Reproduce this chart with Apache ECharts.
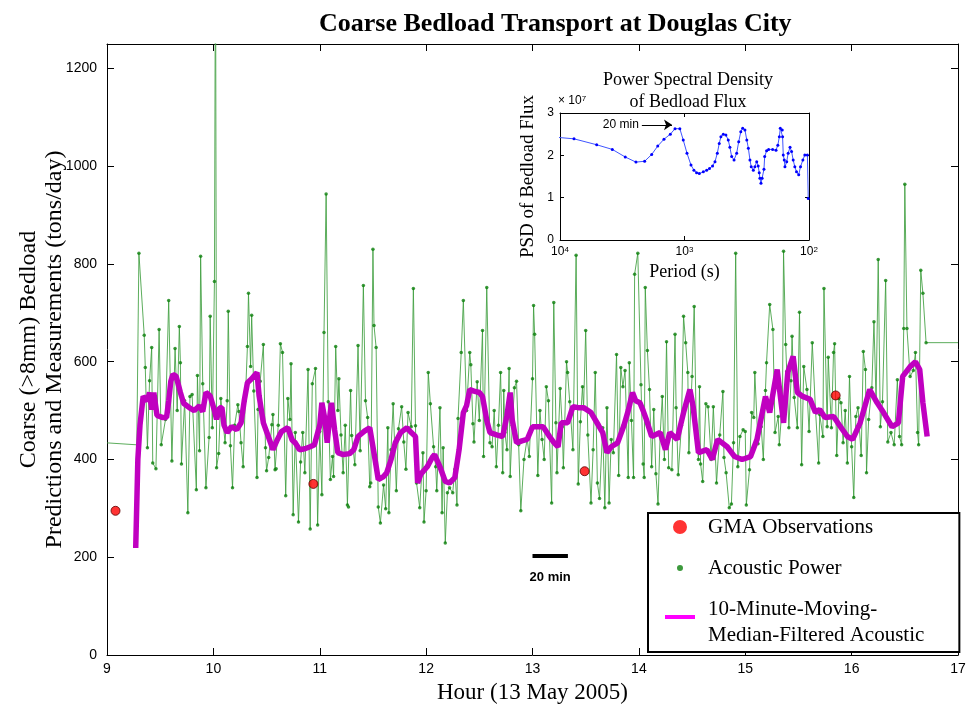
<!DOCTYPE html>
<html>
<head>
<meta charset="utf-8">
<script src="https://cdn.jsdelivr.net/npm/echarts@6/dist/echarts.min.js"></script>
<style>
  html, body { margin: 0; padding: 0; background: #fff; }
  #chart { width: 967px; height: 709px; }
</style>
</head>
<body>
<div id="chart"></div>
<script>
// hour ticks and tons/day ticks of the main panel
var hourTicks = [9, 10, 11, 12, 13, 14, 15, 16, 17];
var tonTicks = [0, 200, 400, 600, 800, 1000, 1200];

// GMA observations [hour, tons/day]
var gmaObs = [[9.08, 295], [10.94, 350], [13.49, 376], [15.85, 531]];

// acoustic trace runs flat before the first and after the last sample
var traceEdges = [[9.00, 434], [9.28, 430], [17.00, 639]];

// acoustic power samples [hour, tons/day]
var acoustic = [
  [9.30, 822], [9.35, 654], [9.36, 588], [9.38, 424], [9.40, 561], [9.42, 629], [9.43, 393], [9.46, 381],
  [9.49, 666], [9.51, 430], [9.55, 482], [9.58, 725], [9.61, 397], [9.64, 627], [9.66, 500], [9.68, 672],
  [9.69, 598], [9.70, 391], [9.73, 520], [9.76, 291], [9.78, 529], [9.80, 533], [9.84, 338], [9.85, 572],
  [9.87, 418], [9.88, 816], [9.90, 555], [9.93, 342], [9.96, 445], [9.97, 693], [9.99, 465], [10.01, 764],
  [10.02, 1500], [10.03, 383], [10.05, 412], [10.07, 525], [10.09, 480], [10.11, 434], [10.13, 520], [10.14, 703],
  [10.16, 428], [10.18, 342], [10.20, 470], [10.23, 512], [10.24, 498], [10.26, 434], [10.28, 385], [10.30, 520],
  [10.32, 631], [10.33, 740], [10.35, 590], [10.36, 695], [10.38, 540], [10.41, 363], [10.42, 502], [10.44, 560],
  [10.47, 635], [10.49, 424], [10.50, 377], [10.52, 404], [10.55, 471], [10.56, 492], [10.58, 379], [10.59, 381],
  [10.61, 470], [10.63, 637], [10.65, 619], [10.68, 326], [10.70, 525], [10.72, 482], [10.73, 596], [10.75, 287],
  [10.77, 455], [10.80, 272], [10.82, 395], [10.84, 455], [10.86, 373], [10.89, 584], [10.91, 258], [10.93, 555],
  [10.96, 586], [10.98, 266], [11.00, 457], [11.02, 328], [11.04, 660], [11.06, 943], [11.08, 518], [11.10, 359],
  [11.12, 406], [11.13, 365], [11.15, 631], [11.17, 500], [11.18, 565], [11.20, 450], [11.22, 373], [11.24, 470],
  [11.26, 307], [11.27, 303], [11.29, 541], [11.30, 449], [11.33, 389], [11.36, 633], [11.38, 418], [11.41, 756],
  [11.43, 520], [11.45, 486], [11.47, 344], [11.48, 352], [11.50, 830], [11.51, 674], [11.53, 629], [11.55, 303],
  [11.57, 270], [11.60, 348], [11.62, 299], [11.64, 465], [11.65, 291], [11.67, 420], [11.69, 514], [11.72, 336],
  [11.74, 463], [11.77, 508], [11.79, 436], [11.81, 380], [11.83, 496], [11.86, 467], [11.88, 750], [11.90, 469],
  [11.91, 352], [11.94, 301], [11.97, 414], [11.98, 272], [12.00, 336], [12.02, 578], [12.04, 514], [12.07, 426],
  [12.09, 385], [12.10, 336], [12.13, 506], [12.15, 291], [12.16, 424], [12.18, 229], [12.20, 332], [12.22, 342],
  [12.25, 332], [12.27, 380], [12.29, 307], [12.30, 484], [12.33, 619], [12.35, 725], [12.38, 500], [12.41, 619],
  [12.42, 594], [12.44, 473], [12.45, 436], [12.48, 559], [12.50, 480], [12.53, 664], [12.54, 406], [12.57, 752],
  [12.60, 434], [12.62, 426], [12.64, 500], [12.66, 385], [12.68, 470], [12.70, 578], [12.72, 373], [12.73, 541],
  [12.74, 455], [12.76, 420], [12.78, 586], [12.79, 365], [12.81, 470], [12.83, 547], [12.85, 560], [12.87, 430],
  [12.89, 295], [12.92, 400], [12.95, 443], [12.97, 406], [13.00, 565], [13.01, 715], [13.02, 656], [13.05, 367],
  [13.07, 500], [13.09, 441], [13.11, 400], [13.13, 549], [13.15, 520], [13.16, 445], [13.18, 311], [13.20, 721],
  [13.22, 475], [13.23, 373], [13.26, 545], [13.28, 467], [13.29, 383], [13.32, 600], [13.33, 578], [13.35, 518],
  [13.38, 420], [13.41, 818], [13.43, 350], [13.45, 477], [13.47, 549], [13.48, 504], [13.50, 664], [13.52, 450],
  [13.55, 311], [13.57, 420], [13.59, 578], [13.61, 352], [13.63, 320], [13.66, 465], [13.68, 301], [13.70, 506],
  [13.72, 311], [13.74, 441], [13.76, 414], [13.79, 615], [13.81, 367], [13.83, 588], [13.85, 549], [13.87, 582],
  [13.90, 363], [13.91, 598], [13.93, 480], [13.95, 363], [13.96, 779], [13.99, 822], [14.02, 553], [14.04, 391],
  [14.05, 363], [14.06, 752], [14.08, 623], [14.10, 543], [14.12, 385], [14.14, 502], [14.16, 371], [14.18, 309],
  [14.20, 450], [14.22, 529], [14.24, 400], [14.26, 641], [14.28, 383], [14.31, 379], [14.34, 656], [14.35, 506],
  [14.37, 369], [14.40, 470], [14.42, 693], [14.44, 639], [14.46, 578], [14.47, 414], [14.50, 570], [14.52, 713],
  [14.54, 460], [14.56, 400], [14.57, 549], [14.58, 391], [14.60, 355], [14.63, 514], [14.65, 508], [14.68, 400],
  [14.70, 508], [14.73, 352], [14.76, 450], [14.79, 539], [14.80, 404], [14.82, 373], [14.85, 301], [14.87, 309],
  [14.89, 434], [14.91, 822], [14.93, 385], [14.95, 447], [14.98, 461], [15.00, 457], [15.01, 307], [15.04, 379],
  [15.06, 496], [15.08, 486], [15.09, 578], [15.12, 432], [15.15, 467], [15.17, 400], [15.19, 541], [15.20, 598],
  [15.23, 717], [15.26, 666], [15.28, 455], [15.31, 488], [15.32, 430], [15.35, 518], [15.36, 826], [15.38, 635],
  [15.39, 580], [15.41, 465], [15.43, 561], [15.44, 652], [15.46, 527], [15.49, 465], [15.51, 701], [15.53, 389],
  [15.55, 590], [15.58, 543], [15.60, 457], [15.63, 639], [15.66, 502], [15.69, 393], [15.70, 492], [15.73, 447],
  [15.74, 750], [15.77, 467], [15.78, 609], [15.81, 465], [15.83, 619], [15.84, 637], [15.86, 408], [15.88, 525],
  [15.90, 516], [15.92, 434], [15.94, 500], [15.96, 393], [15.98, 570], [16.00, 426], [16.02, 322], [16.04, 488],
  [16.06, 506], [16.09, 408], [16.11, 621], [16.13, 584], [16.14, 373], [16.16, 482], [16.19, 547], [16.21, 682],
  [16.23, 518], [16.25, 809], [16.27, 467], [16.29, 518], [16.32, 766], [16.34, 436], [16.37, 455], [16.40, 430],
  [16.43, 563], [16.45, 447], [16.47, 430], [16.49, 668], [16.50, 963], [16.52, 668], [16.55, 570], [16.58, 582],
  [16.60, 619], [16.62, 455], [16.63, 430], [16.65, 787], [16.67, 740], [16.70, 639]
];

// 10 minute moving median of the acoustic signal [hour, tons/day]
var median = [
  [9.27, 219], [9.29, 400], [9.31, 470], [9.34, 529], [9.38, 520], [9.40, 537], [9.42, 502], [9.44, 537],
  [9.47, 490], [9.52, 486], [9.56, 486], [9.58, 520], [9.60, 560], [9.62, 574], [9.65, 570], [9.69, 537],
  [9.72, 515], [9.78, 505], [9.82, 500], [9.87, 510], [9.90, 498], [9.93, 537], [9.97, 530], [10.01, 500],
  [10.03, 482], [10.06, 506], [10.08, 506], [10.10, 470], [10.13, 455], [10.17, 467], [10.22, 461], [10.26, 475],
  [10.29, 520], [10.32, 557], [10.36, 565], [10.41, 578], [10.43, 530], [10.47, 475], [10.52, 445], [10.56, 420],
  [10.60, 440], [10.64, 457], [10.70, 465], [10.74, 440], [10.77, 434], [10.81, 420], [10.86, 422], [10.91, 426],
  [10.95, 430], [11.00, 470], [11.02, 516], [11.05, 480], [11.07, 434], [11.09, 480], [11.11, 516], [11.14, 460],
  [11.17, 414], [11.22, 410], [11.28, 412], [11.32, 420], [11.36, 447], [11.42, 458], [11.47, 465], [11.52, 400],
  [11.55, 359], [11.60, 365], [11.63, 373], [11.67, 400], [11.71, 434], [11.76, 455], [11.82, 465], [11.86, 455],
  [11.90, 447], [11.92, 352], [11.95, 370], [12.01, 385], [12.06, 405], [12.08, 410], [12.13, 385], [12.18, 355],
  [12.22, 352], [12.27, 363], [12.31, 420], [12.35, 496], [12.38, 510], [12.41, 543], [12.45, 540], [12.50, 537],
  [12.53, 529], [12.57, 480], [12.60, 455], [12.67, 450], [12.72, 447], [12.76, 490], [12.79, 537], [12.81, 480],
  [12.85, 434], [12.90, 438], [12.95, 441], [13.00, 467], [13.05, 467], [13.10, 467], [13.16, 447], [13.20, 435],
  [13.24, 426], [13.27, 475], [13.33, 475], [13.38, 508], [13.43, 506], [13.48, 506], [13.55, 496], [13.62, 470],
  [13.66, 455], [13.70, 414], [13.74, 426], [13.80, 434], [13.86, 470], [13.90, 500], [13.94, 537], [13.97, 520],
  [14.01, 516], [14.04, 500], [14.07, 482], [14.12, 447], [14.20, 455], [14.25, 420], [14.29, 455], [14.36, 441],
  [14.42, 496], [14.48, 543], [14.51, 508], [14.56, 414], [14.64, 420], [14.69, 400], [14.74, 441], [14.83, 426],
  [14.90, 406], [14.97, 400], [15.05, 406], [15.11, 441], [15.19, 529], [15.23, 496], [15.30, 584], [15.36, 475],
  [15.40, 578], [15.45, 611], [15.49, 537], [15.54, 529], [15.61, 523], [15.66, 496], [15.70, 502], [15.75, 486],
  [15.83, 488], [15.87, 475], [15.96, 447], [16.01, 441], [16.08, 475], [16.17, 543], [16.24, 516], [16.30, 496],
  [16.38, 467], [16.44, 475], [16.48, 570], [16.55, 590], [16.60, 600], [16.64, 584], [16.67, 516], [16.71, 447]
];

// inset: power spectral density [period s, PSD x 1e7]
var psd = [
  [11000, 2.43], [7720, 2.39], [5075, 2.25], [3800, 2.14], [2990, 1.96], [2455, 1.84], [2090, 1.86], [1835, 2.02],
  [1640, 2.22], [1462, 2.38], [1300, 2.50], [1192, 2.63], [1090, 2.63], [1023, 2.36], [955, 2.05], [887, 1.77],
  [840, 1.65], [800, 1.59], [760, 1.57], [706, 1.61], [664, 1.65], [630, 1.69], [595, 1.75], [569, 1.85],
  [545, 2.05], [526, 2.28], [510, 2.44], [488, 2.50], [465, 2.48], [445, 2.36], [432, 2.19], [418, 1.97],
  [400, 1.89], [381, 2.05], [367, 2.32], [353, 2.56], [341, 2.64], [327, 2.60], [316, 2.36], [307, 2.17],
  [298, 1.89], [291, 1.73], [280, 1.65], [272, 1.73], [263, 1.85], [256, 1.75], [251, 1.59], [248, 1.46],
  [243, 1.34], [238, 1.46], [230, 1.67], [227, 1.97], [219, 2.11], [211, 2.14], [196, 2.14], [184, 2.12],
  [178, 2.24], [173, 2.44], [170, 2.64], [164, 2.60], [163, 2.44], [161, 2.01], [158, 1.89], [156, 1.73],
  [151, 1.85], [147, 2.05], [142, 2.19], [138, 2.09], [134, 1.89], [130, 1.73], [126, 1.61], [121, 1.54],
  [117, 1.73], [112, 1.89], [108, 2.01], [103, 2.01], [101.4, 0.98]
];
var psdTicks = [0, 1, 2, 3];

var serif = '"Liberation Serif", "Times New Roman", serif';
var sans = '"Liberation Sans", Arial, sans-serif';

var chart = echarts.init(document.getElementById('chart'), null, { renderer: 'canvas' });

// axis helpers, the frame is drawn with mirrored axes so ticks sit on all four sides
var frameLine = { show: true, onZero: false, lineStyle: { color: '#000', width: 1 } };
var tickIn = { show: true, inside: true, length: 7, lineStyle: { color: '#000' } };
var smallTick = { show: true, inside: true, length: 4, lineStyle: { color: '#000' } };
var noLabel = { show: false };

var option = {
  backgroundColor: '#fff',
  animation: false,
  title: [{
    text: 'Coarse Bedload Transport at Douglas City',
    left: 314, top: 6,
    textStyle: { fontFamily: serif, fontSize: 26, fontWeight: 'bold', color: '#000' }
  }, {
    text: 'Power Spectral Density\nof Bedload Flux',
    left: 683, top: 64, textAlign: 'center',
    textStyle: { fontFamily: serif, fontSize: 18, fontWeight: 'normal', color: '#000', lineHeight: 22 }
  }],
  legend: {
    orient: 'vertical',
    left: 648, top: 513,
    padding: [1, 35, 4, 9],
    itemGap: 15,
    itemWidth: 46, itemHeight: 26,
    borderColor: '#000', borderWidth: 2,
    backgroundColor: '#fff',
    selectedMode: false,
    textStyle: { fontFamily: serif, fontSize: 21, color: '#000', lineHeight: 26 },
    data: [
      { name: 'GMA Observations',
        icon: 'path://M0,0L0.1,0.1ZM46,26L45.9,25.9ZM23,6A7,7,0,1,1,23,20A7,7,0,1,1,23,6Z',
        itemStyle: { color: '#ff0000', borderWidth: 0 } },
      { name: 'Acoustic Power',
        icon: 'path://M0,0L0.1,0.1ZM46,26L45.9,25.9ZM23,10A3,3,0,1,1,23,16A3,3,0,1,1,23,10Z',
        itemStyle: { color: '#0b7f0b' } },
      { name: '10-Minute-Moving-\nMedian-Filtered Acoustic',
        icon: 'path://M0,0L0.1,0.1ZM46,26L45.9,25.9ZM8,6L38,6L38,10L8,10Z',
        itemStyle: { color: '#ff00ff' }, lineStyle: { width: 0 } }
    ]
  },
  grid: [
    { left: 107, top: 44, right: 9, bottom: 54, outerBoundsMode: 'none' },
    { left: 560, top: 113, width: 249, height: 127, show: true, backgroundColor: '#fff', borderWidth: 0, z: 5, outerBoundsMode: 'none' }
  ],
  graphic: [{
    type: 'text', left: 558, top: 95, z: 100,
    style: {
      text: '\u00d7 10{s|7}', fill: '#000', font: '12px ' + sans,
      rich: { s: { fontSize: 8, fontFamily: sans, verticalAlign: 'top', fill: '#000' } }
    }
  }],
  xAxis: [{
    gridIndex: 0, type: 'value', min: hourTicks[0], max: hourTicks[hourTicks.length - 1], interval: 1,
    name: 'Hour (13 May 2005)', nameLocation: 'middle', nameGap: 26,
    nameTextStyle: { fontFamily: serif, fontSize: 23, color: '#000' },
    axisLine: frameLine, axisTick: tickIn, splitLine: { show: false },
    axisLabel: { margin: 7, fontFamily: sans, fontSize: 14, color: '#000' }
  }, {
    gridIndex: 0, type: 'value', position: 'top', min: 9, max: 17, interval: 1,
    axisLine: frameLine, axisTick: tickIn, axisLabel: noLabel, splitLine: { show: false }
  }, {
    gridIndex: 1, type: 'log', logBase: 10, min: 100, max: 10000, inverse: true,
    name: 'Period (s)', nameLocation: 'middle', nameGap: 23,
    nameTextStyle: { fontFamily: serif, fontSize: 18, color: '#000' },
    axisLine: frameLine, axisTick: smallTick,
    splitLine: { show: false },
    axisLabel: {
      margin: 6, color: '#000',
      formatter: function (v) { return '{b|10}{s|' + Math.round(Math.log10(v)) + '}'; },
      rich: {
        b: { fontFamily: sans, fontSize: 12, color: '#000' },
        s: { fontFamily: sans, fontSize: 8, color: '#000', verticalAlign: 'top', padding: [0, 0, 4, 0] }
      }
    },
    z: 6
  }, {
    gridIndex: 1, type: 'log', logBase: 10, min: 100, max: 10000, inverse: true, position: 'top',
    axisLine: frameLine, axisTick: smallTick,
    axisLabel: noLabel, splitLine: { show: false }, z: 6
  }],
  yAxis: [{
    gridIndex: 0, type: 'value', min: tonTicks[0], max: 1250, interval: 200,
    name: 'Coarse (>8mm) Bedload\nPredictions and Measurements (tons/day)',
    nameLocation: 'middle', nameGap: 39, nameMoveOverlap: false,
    nameTextStyle: { fontFamily: serif, fontSize: 24, color: '#000', lineHeight: 26 },
    axisLine: frameLine, axisTick: tickIn, splitLine: { show: false },
    axisLabel: {
      margin: 10, fontFamily: sans, fontSize: 14, color: '#000', showMaxLabel: false,
      formatter: function (v) { return tonTicks.indexOf(v) >= 0 ? String(v) : ''; }
    }
  }, {
    gridIndex: 0, type: 'value', position: 'right', min: 0, max: 1250, interval: 200,
    axisLine: frameLine, axisTick: tickIn, axisLabel: noLabel, splitLine: { show: false }
  }, {
    gridIndex: 1, type: 'value', min: psdTicks[0], max: psdTicks[psdTicks.length - 1], interval: 1,
    name: 'PSD of Bedload Flux', nameLocation: 'middle', nameGap: 22,
    nameTextStyle: { fontFamily: serif, fontSize: 19, color: '#000' },
    axisLine: frameLine, axisTick: smallTick,
    splitLine: { show: false },
    axisLabel: { margin: 6, fontFamily: sans, fontSize: 12, color: '#000' }, z: 6
  }, {
    gridIndex: 1, type: 'value', position: 'right', min: 0, max: 3, interval: 1,
    axisLine: frameLine, axisTick: smallTick,
    axisLabel: noLabel, splitLine: { show: false }, z: 6
  }],
  series: [{
    name: 'acoustic trace',
    type: 'line', xAxisIndex: 0, yAxisIndex: 0,
    data: [traceEdges[0], traceEdges[1]].concat(acoustic, [traceEdges[2]]),
    showSymbol: false, silent: true, z: 2,
    lineStyle: { color: '#3f9f3f', width: 1, opacity: 0.85 },
    markLine: {
      silent: true, symbol: ['none', 'none'],
      lineStyle: { color: '#000', width: 4, type: 'solid' },
      label: {
        show: true, position: 'insideMiddleBottom', distance: 15,
        formatter: '20 min', fontFamily: sans, fontSize: 13, fontWeight: 'bold', color: '#000'
      },
      data: [[{ coord: [13.0, 203] }, { coord: [13.333, 203] }]]
    }
  }, {
    name: 'Acoustic Power',
    type: 'scatter', xAxisIndex: 0, yAxisIndex: 0,
    data: acoustic, symbol: 'circle', symbolSize: 3.5, z: 3, silent: true,
    itemStyle: { color: '#0b7f0b' }
  }, {
    name: '10-Minute-Moving-\nMedian-Filtered Acoustic',
    type: 'line', xAxisIndex: 0, yAxisIndex: 0,
    data: median, showSymbol: false, z: 4, silent: true,
    itemStyle: { color: '#c000c0' },
    lineStyle: { color: '#c000c0', width: 5.5 }
  }, {
    name: 'GMA Observations',
    type: 'scatter', xAxisIndex: 0, yAxisIndex: 0,
    data: gmaObs, symbolSize: 9, z: 5, silent: true,
    itemStyle: { color: '#ff0000', borderColor: '#5a0000', borderWidth: 1 }
  }, {
    name: 'PSD',
    type: 'line', xAxisIndex: 2, yAxisIndex: 2,
    data: psd, symbol: 'circle', symbolSize: 3, showSymbol: true, z: 10, silent: true, clip: true,
    itemStyle: { color: '#0000ff' },
    lineStyle: { color: '#3f55ff', width: 1 },
    markLine: {
      silent: true, symbol: ['none', 'arrow'], symbolSize: 8,
      lineStyle: { color: '#000', width: 1, type: 'solid' },
      label: { show: true, position: 'start', formatter: '20 min', fontFamily: sans, fontSize: 12, color: '#000', distance: 3 },
      data: [[{ coord: [2200, 2.72] }, { coord: [1260, 2.72] }]]
    }
  }]
};

chart.setOption(option);
</script>
</body>
</html>
